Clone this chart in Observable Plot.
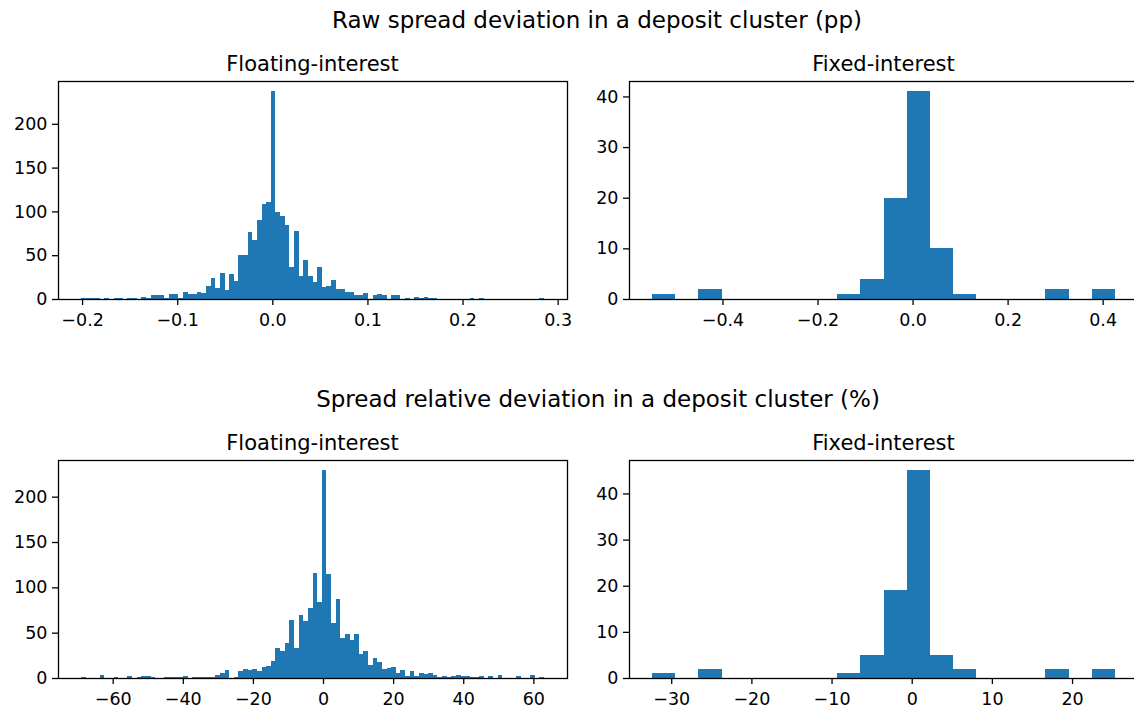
<!DOCTYPE html>
<html><head><meta charset="utf-8">
<script src="https://cdn.jsdelivr.net/npm/d3@7"></script>
<script src="https://cdn.jsdelivr.net/npm/@observablehq/plot@0.6"></script>
<style>
body{margin:0;background:#fff;font-family:"DejaVu Sans",sans-serif;}
#fig{position:relative;width:1134px;height:711px;overflow:hidden;background:#fff;}
.t{position:absolute;transform:translate(-50%,-50%);white-space:nowrap;color:#000;line-height:1;}
.sup{font-size:23px}
.sub{font-size:21px}
.p{position:absolute}
.p svg{max-width:none !important;display:block}
</style></head><body>
<div id="fig"></div>
<script>
// ---- data ----
const supTitles = ["Raw spread deviation in a deposit cluster (pp)", "Spread relative deviation in a deposit cluster (%)"];
const subTitles = ["Floating-interest", "Fixed-interest"];

const rawFloatRange = [-0.201, 0.2855];
const rawFloatCounts = [
  1,1,1,1,0,1,0,1,1,0,
  1,1,0,2,1,5,5,4,1,6,
  6,1,8,6,6,8,7,15,24,12,
  30,10,28,21,50,50,76,67,90,108,
  111,237,99,95,84,36,78,26,44,26,
  19,36,14,15,22,11,11,8,8,4,
  5,7,0,4,6,4,0,4,4,0,
  1,0,2,1,2,1,1,0,0,0,
  0,0,0,0,1,0,1,0,0,0,
  0,0,0,0,0,0,0,0,0,1];
const rawFixedRange = [-0.548, 0.4257];
const rawFixedCounts = [1,0,2,0,0,0,0,0,1,4,20,41,10,1,0,0,0,2,0,2];

const relFloatRange = [-69.0, 63.0];
const relFloatCounts = [
  1,0,0,0,3,0,0,1,0,0,
  2,0,1,2,2,1,0,0,1,1,
  1,1,2,0,1,1,1,1,1,3,
  5,9,0,1,8,10,9,10,8,12,
  13,19,33,30,39,64,33,69,63,77,
  116,84,229,115,61,87,44,49,42,48,
  27,30,14,22,18,10,11,12,6,9,
  2,8,2,6,4,6,3,1,2,1,
  2,3,2,2,1,1,2,0,2,0,
  3,0,0,0,2,0,0,3,0,1];
const relFixedRange = [-32.38, 25.34];
const relFixedCounts = [1,0,2,0,0,0,0,0,1,5,19,45,5,2,0,0,0,2,0,2];

const rawFloatXTicks = [-0.2, -0.1, 0, 0.1, 0.2, 0.3];
const rawFixedXTicks = [-0.4, -0.2, 0, 0.2, 0.4];
const relFloatXTicks = [-60, -40, -20, 0, 20, 40, 60];
const relFixedXTicks = [-30, -20, -10, 0, 10, 20];
const floatYTicks = [0, 50, 100, 150, 200];
const fixedYTicks = [0, 10, 20, 30, 40];

// ---- drawing ----
const minus = s => s.replace("-", "\u2212");
const fmt1 = d => minus(d.toFixed(1));
const fmt0 = d => minus(d.toFixed(0));
const M = {l: 60, r: 4, t: 10, b: 40};

function hist(counts, range, xTicks, yTicks, xfmt, fw, fh) {
  const n = counts.length, lo = range[0], hi = range[1], w = (hi - lo) / n;
  const bins = counts.map((c, i) => ({x1: lo + i * w, x2: lo + (i + 1) * w, count: c})).filter(d => d.count > 0);
  const pad = 0.05 * (hi - lo);
  return Plot.plot({
    width: fw + M.l + M.r, height: fh + M.t + M.b,
    marginLeft: M.l, marginRight: M.r, marginTop: M.t, marginBottom: M.b,
    style: {fontFamily: "DejaVu Sans, sans-serif", fontSize: "17.5px", background: "transparent", overflow: "visible", color: "black", maxWidth: "none"},
    x: {domain: [lo - pad, hi + pad]},
    y: {domain: [0, d3.max(counts) * 1.05]},
    marks: [
      Plot.rectY(bins, {x1: "x1", x2: "x2", y: "count", fill: "#1f77b4", inset: 0, shapeRendering: "crispEdges"}),
      Plot.axisX({ticks: xTicks, tickFormat: xfmt, tickSize: 6, tickPadding: 8, strokeWidth: 1.3, label: null}),
      Plot.axisY({ticks: yTicks, tickSize: 6, tickPadding: 5, strokeWidth: 1.3, label: null}),
      Plot.frame({stroke: "black", strokeWidth: 1.3})
    ]
  });
}

const fig = document.getElementById("fig");
function place(el, frameLeft, frameTop) {
  const d = document.createElement("div");
  d.className = "p"; d.style.left = (frameLeft - M.l) + "px"; d.style.top = (frameTop - M.t) + "px";
  d.appendChild(el); fig.appendChild(d);
}
function text(str, cls, x, y) {
  const d = document.createElement("div");
  d.className = "t " + cls; d.textContent = str;
  d.style.left = x + "px"; d.style.top = y + "px";
  fig.appendChild(d);
}

const FW = 509, FH = 218, LX = 58, RX = 629;
place(hist(rawFloatCounts, rawFloatRange, rawFloatXTicks, floatYTicks, fmt1, FW, FH), LX, 81);
place(hist(rawFixedCounts, rawFixedRange, rawFixedXTicks, fixedYTicks, fmt1, FW, FH), RX, 81);
place(hist(relFloatCounts, relFloatRange, relFloatXTicks, floatYTicks, fmt0, FW, FH), LX, 460);
place(hist(relFixedCounts, relFixedRange, relFixedXTicks, fixedYTicks, fmt0, FW, FH), RX, 460);

text(supTitles[0], "sup", 597, 20);
text(subTitles[0], "sub", LX + FW / 2, 64);
text(subTitles[1], "sub", RX + FW / 2, 64);
text(supTitles[1], "sup", 598, 399);
text(subTitles[0], "sub", LX + FW / 2, 443);
text(subTitles[1], "sub", RX + FW / 2, 443);
</script>
</body></html>
